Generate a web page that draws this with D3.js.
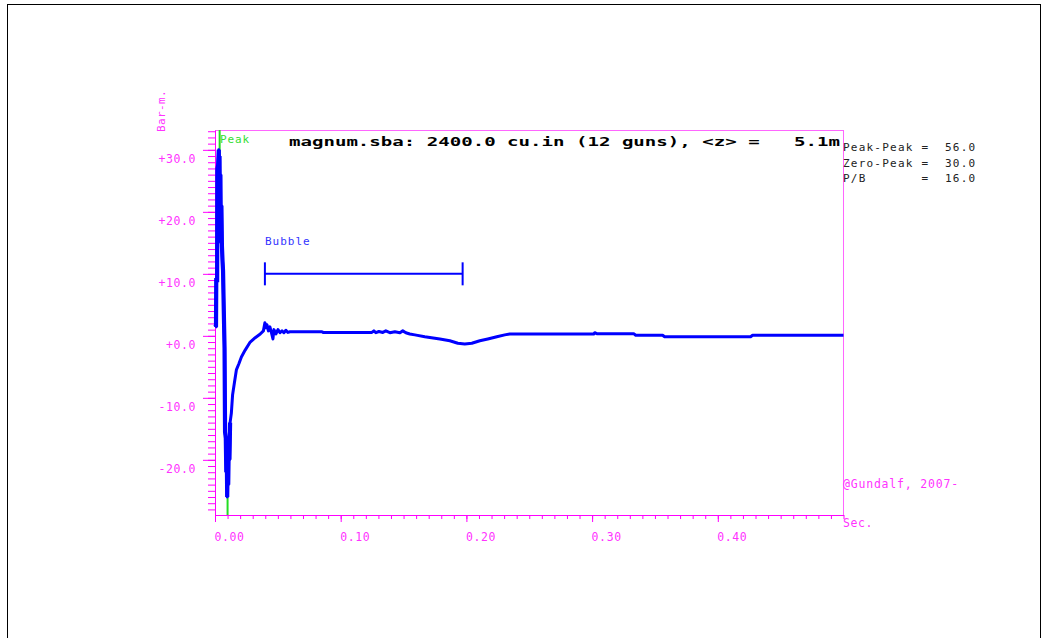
<!DOCTYPE html>
<html><head><meta charset="utf-8">
<script src="https://cdn.jsdelivr.net/npm/d3@7"></script>
<style>body{margin:0;background:#fff}svg{display:block}text{white-space:pre}</style>
</head><body>
<svg id="c" width="1043" height="638"></svg>
<script>
// ---- data ----
const timeS = [0.0000,0.0008,0.0010,0.0017,0.0019,0.0025,0.0030,0.0033,0.0036,0.0040,0.0043,0.0047,0.0051,0.0055,0.0060,0.0064,0.0070,0.0076,0.0080,0.0086,0.0090,0.0093,0.0097,0.0101,0.0105,0.0110,0.0115,0.0120,0.0130,0.0140,0.0155,0.0170,0.0190,0.0210,0.0240,0.0280,0.0320,0.0360,0.0385,
  0.0397,0.0405,0.0413,0.0425,0.0437,0.0449,0.0461,0.0469,0.0485,0.0501,0.0517,0.0533,0.0548,0.0564,0.0580,0.0596,
  0.0851,0.0860,0.1248,0.1264,0.1280,0.1304,0.1335,0.1359,0.1391,0.1431,0.1471,0.1494,0.1518,0.1550,
  0.1590,0.1669,0.1789,0.1868,0.1932,0.1987,0.2043,0.2107,0.2170,0.2242,0.2305,0.2345,0.2424,
  0.3013,0.3021,0.3037,0.3331,0.3347,0.3561,0.3577,0.4261,0.4277,0.5000];
const pressureBarM = [1.4,1.6,9.0,9.0,27.0,27.5,30.0,22.0,29.0,17.0,26.0,15.0,21.0,14.5,12.0,10.5,4.0,-2.0,-15.5,-16.5,-22.0,-17.0,-26.0,-20.0,-24.0,-17.0,-20.0,-14.0,-12.5,-9.5,-7.5,-5.5,-4.5,-3.4,-2.3,-1.0,-0.3,0.3,0.8,
  2.1,1.3,1.8,0.8,1.45,0.5,-0.5,1.0,0.3,1.0,0.5,0.8,0.5,0.9,0.55,0.65,
  0.65,0.55,0.55,0.8,0.5,0.7,0.55,0.8,0.5,0.65,0.5,0.8,0.5,0.3,
  0.15,-0.15,-0.5,-0.8,-1.2,-1.3,-1.2,-0.8,-0.5,-0.15,0.15,0.3,0.3,
  0.3,0.5,0.35,0.35,0.1,0.1,-0.15,-0.15,0.1,0.1];

const xTickValues = [0, 0.1, 0.2, 0.3, 0.4];
const xTickLabels = ["0.00", "0.10", "0.20", "0.30", "0.40"];
const yTickValues = [30, 20, 10, 0, -10, -20];
const yTickLabels = ["+30.0", "+20.0", "+10.0", "+0.0", "-10.0", "-20.0"];

const markerTimes = [0.0037, 0.0100];     // peak, trough
const markerValues = [26, -23];           // green marker reaches to these values
const bubbleStartEnd = [0.0397, 0.197];
const bubbleLevel = 10;

const titleText = "magnum.sba: 2400.0 cu.in (12 guns), <z> =   5.1m";
const statsLines = ["Peak-Peak =  56.0", "Zero-Peak =  30.0", "P/B       =  16.0"];
const xUnit = "Sec.";
const yUnit = "Bar-m.";
const credit = "@Gundalf, 2007-";

// ---- layout ----
const svg = d3.select("#c");
const L = 215, R = 843, T = 130, B = 515;
const x = d3.scaleLinear().domain([0, 0.5]).range([L, R + 0.5]);
const y = d3.scaleLinear().domain([-28.9, 33.2]).range([B, T]);
const MAG = "#ff00ff";
const mono = "'DejaVu Sans Mono', 'Liberation Mono', monospace";

// outer border
svg.append("rect").attr("x", 7.5).attr("y", 4.5).attr("width", 1033).attr("height", 640)
  .attr("fill", "none").attr("stroke", "#000").attr("stroke-width", 1);

// frame top & right
svg.append("line").attr("x1", L).attr("x2", R + 0.5).attr("y1", T + 0.5).attr("y2", T + 0.5)
  .attr("stroke", "#ff66ff").attr("stroke-width", 1);
svg.append("line").attr("x1", R + 0.5).attr("x2", R + 0.5).attr("y1", T).attr("y2", B)
  .attr("stroke", "#ff66ff").attr("stroke-width", 1);

// x axis minor
const xMinor = d3.range(0, 0.5001, 0.01);
const gxm = svg.append("g").attr("transform", `translate(0,${B})`)
  .call(d3.axisBottom(x).tickValues(xMinor).tickSize(4).tickFormat("").tickSizeOuter(0));
const gx = svg.append("g").attr("transform", `translate(0,${B})`)
  .call(d3.axisBottom(x).tickValues(xTickValues).tickSize(7).tickSizeOuter(0)
    .tickFormat((d, i) => xTickLabels[i]));
gx.select(".domain").remove();
[gxm, gx].forEach(g => { g.selectAll("path,line").attr("stroke", MAG); });
gx.selectAll("text").attr("y", 26).attr("dy", null).attr("x", -1).attr("text-anchor", "start")
  .attr("fill", "#ff33ff").style("font-family", mono).style("font-size", "11.5px").style("letter-spacing", "0.6px");

// y axis minor
const yMinor = d3.range(-28, 34, 1);
const gym = svg.append("g").attr("transform", `translate(${L},0)`)
  .call(d3.axisLeft(y).tickValues(yMinor).tickSize(7).tickFormat("").tickSizeOuter(0));
const gy = svg.append("g").attr("transform", `translate(${L},0)`)
  .call(d3.axisLeft(y).tickValues(yTickValues).tickSize(12).tickSizeOuter(0)
    .tickFormat((d, i) => yTickLabels[i]));
gy.select(".domain").remove();
[gym, gy].forEach(g => { g.selectAll("path,line").attr("stroke", MAG); });
gy.selectAll("text").attr("x", -19).attr("dy", null).attr("y", 12.5).attr("text-anchor", "end")
  .attr("fill", "#ff33ff").style("font-family", mono).style("font-size", "11.5px").style("letter-spacing", "0.6px");

// axis unit labels
svg.append("text").attr("x", R).attr("y", 527).text(xUnit)
  .attr("fill", "#ff33ff").style("font-family", mono).style("font-size", "11.5px").style("letter-spacing", "0.6px");
svg.append("text").attr("transform", "translate(165,132) rotate(-90)").text(yUnit)
  .attr("fill", "#ff33ff").style("font-family", mono).style("font-size", "11px").style("letter-spacing", "0.4px");
svg.append("text").attr("x", R).attr("y", 488).text(credit)
  .attr("fill", "#ff33ff").style("font-family", mono).style("font-size", "11.5px").style("letter-spacing", "0.8px");

// green peak/trough markers
svg.append("line").attr("x1", x(markerTimes[0])).attr("x2", x(markerTimes[0]))
  .attr("y1", T).attr("y2", y(markerValues[0])).attr("stroke", "#22dd22").attr("stroke-width", 2);
svg.append("line").attr("x1", x(markerTimes[1])).attr("x2", x(markerTimes[1]))
  .attr("y1", y(markerValues[1])).attr("y2", B).attr("stroke", "#22dd22").attr("stroke-width", 2);
svg.append("text").attr("x", 220).attr("y", 143).text("Peak")
  .attr("fill", "#33dd33").style("font-family", mono).style("font-size", "11px").style("letter-spacing", "0.9px");

// signal
const pts = timeS.map((t, i) => [t, pressureBarM[i]]);
const lineGen = d3.line().x(d => x(d[0])).y(d => y(d[1]));
svg.append("path").datum(pts)
  .attr("d", lineGen)
  .attr("fill", "none").attr("stroke", "#0000ff").attr("stroke-width", 3)
  .attr("stroke-linejoin", "round");
// denser, heavier early portion (primary pulse)
svg.append("path").datum(pts.filter(d => d[0] <= 0.0125))
  .attr("d", lineGen)
  .attr("fill", "none").attr("stroke", "#0000ff").attr("stroke-width", 4.2)
  .attr("stroke-linejoin", "miter");

// bubble marker
const by = y(bubbleLevel);
const bx0 = x(bubbleStartEnd[0]), bx1 = x(bubbleStartEnd[1]);
svg.append("line").attr("x1", bx0).attr("x2", bx1).attr("y1", by).attr("y2", by).attr("stroke", "#0000ff").attr("stroke-width", 2);
[bx0, bx1].forEach(bx => svg.append("line").attr("x1", bx).attr("x2", bx).attr("y1", by - 11.5).attr("y2", by + 11.5)
  .attr("stroke", "#0000ff").attr("stroke-width", 2));
svg.append("text").attr("x", bx0).attr("y", 245).text("Bubble")
  .attr("fill", "#3333ff").style("font-family", mono).style("font-size", "11px").style("letter-spacing", "1px");

// title
svg.append("text").attr("x", 289).attr("y", 146).text(titleText)
  .attr("textLength", 551).attr("lengthAdjust", "spacingAndGlyphs")
  .attr("fill", "#000").style("font-family", mono).style("font-size", "12.5px").style("font-weight", "bold");

// stats
svg.selectAll("text.stat").data(statsLines).enter().append("text").attr("class", "stat")
  .attr("x", 843).attr("y", (d, i) => 151 + i * 15.7).text(d => d)
  .attr("fill", "#222").style("font-family", mono).style("font-size", "11px").style("letter-spacing", "1.22px");
</script>
</body></html>
